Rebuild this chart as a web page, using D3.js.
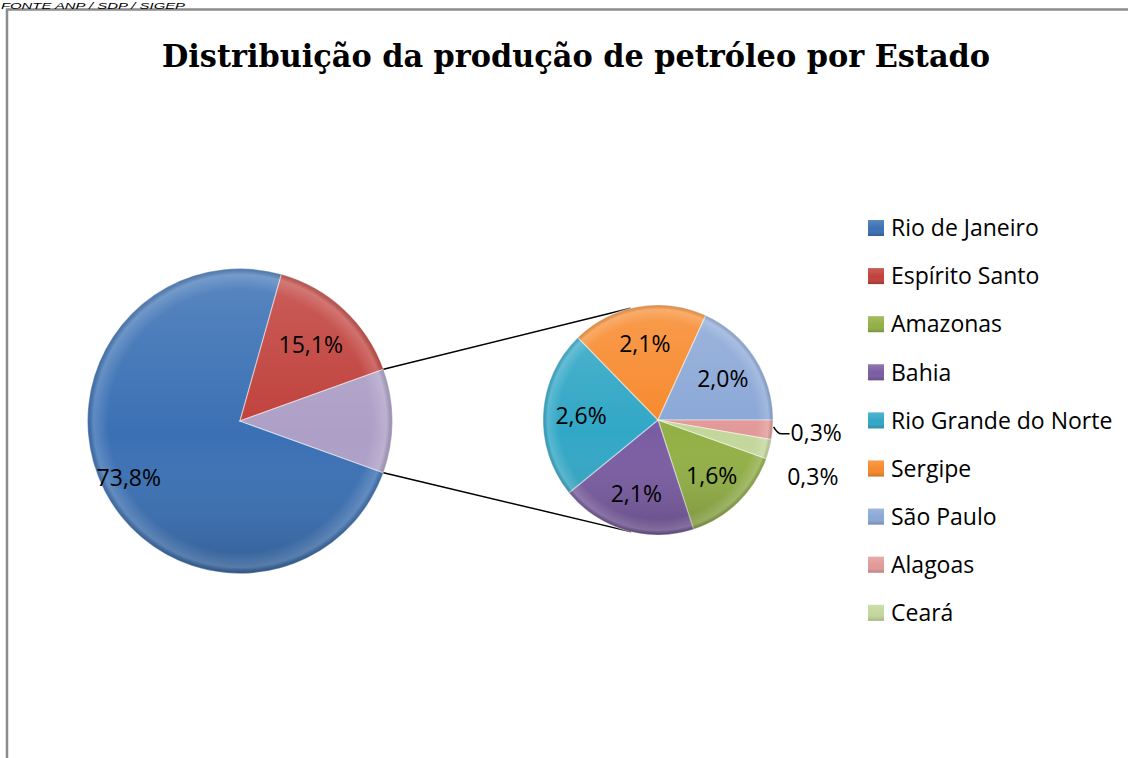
<!DOCTYPE html>
<html>
<head>
<meta charset="utf-8">
<script src="https://cdn.jsdelivr.net/npm/d3@7"></script>
<style>
  body { margin: 0; background: #fff; }
  svg { display: block; }
</style>
</head>
<body>
<svg width="1128" height="758"></svg>
<script>
// main pie: the two big states, the rest goes to the secondary pie
const mainStates = ["Rio de Janeiro", "Espírito Santo"];
const mainValues = [73.8, 15.1];
const subStates = ["Amazonas", "Bahia", "Rio Grande do Norte", "Sergipe", "São Paulo", "Alagoas", "Ceará"];
const subValues = [1.6, 2.1, 2.6, 2.1, 2.0, 0.3, 0.3];
const stateColors = ["#3a70b4", "#c0403b", "#92b045", "#7a5ca2", "#31a7c6", "#f7892c", "#8aa7d6", "#e29a99", "#c3d79b"];
const otherColor = "#ad9fc6";

const title = "Distribuição da produção de petróleo por Estado";
const source = "FONTE ANP / SDP / SIGEP";

var svg = d3.select("svg"),
  width = +svg.attr("width"),
  height = +svg.attr("height");

var allStates = mainStates.concat(subStates);
var color = d3.scaleOrdinal().domain(allStates).range(stateColors);
var fmt = function (v) {
  return d3.format(".1f")(v).replace(".", ",") + "%";
};

var otherTotal = d3.sum(subValues);
var mainTotal = d3.sum(mainValues) + otherTotal;

// gradients for the excel-ish shading
var defs = svg.append("defs");
var shade = defs.append("linearGradient").attr("id", "shade").attr("x1", 0).attr("y1", 0).attr("x2", 0).attr("y2", 1);
shade.append("stop").attr("offset", "0%").attr("stop-color", "#fff").attr("stop-opacity", 0.16);
shade.append("stop").attr("offset", "55%").attr("stop-color", "#fff").attr("stop-opacity", 0);
shade.append("stop").attr("offset", "100%").attr("stop-color", "#000").attr("stop-opacity", 0.18);
var rim = defs.append("radialGradient").attr("id", "rim");
rim.append("stop").attr("offset", "86%").attr("stop-color", "#fff").attr("stop-opacity", 0);
rim.append("stop").attr("offset", "96%").attr("stop-color", "#fff").attr("stop-opacity", 0.18);
rim.append("stop").attr("offset", "100%").attr("stop-color", "#000").attr("stop-opacity", 0.12);

// frame + source note
svg.append("rect")
  .attr("x", 7).attr("y", 9.5)
  .attr("width", width + 10).attr("height", height + 10)
  .attr("fill", "none").attr("stroke", "#8c8c8c").attr("stroke-width", 2.5);

svg.append("text")
  .attr("x", 1).attr("y", 8.6)
  .attr("font-family", "Liberation Sans, Arial, sans-serif")
  .attr("font-style", "italic")
  .attr("font-size", "9.5px")
  .attr("textLength", 184)
  .attr("lengthAdjust", "spacingAndGlyphs")
  .attr("fill", "#000")
  .text(source);

svg.append("text")
  .attr("x", 576).attr("y", 67)
  .attr("text-anchor", "middle")
  .attr("font-family", "DejaVu Serif Condensed, DejaVu Serif, serif")
  .attr("font-stretch", "condensed")
  .attr("font-weight", "bold")
  .attr("font-size", "31px")
  .attr("textLength", 828)
  .attr("lengthAdjust", "spacingAndGlyphs")
  .text(title);

var labelFont = "Open Sans, Liberation Sans, sans-serif";

// ---- main pie ----
var c1 = { x: 240, y: 421 }, r1 = 152.5;
var mainData = mainStates.map(function (s, i) {
  return { state: s, value: mainValues[i] };
});
mainData.push({ state: "Outros", value: otherTotal });

// "other" slice centred on 3 o'clock
var mainStart = Math.PI / 2 + Math.PI * (otherTotal / mainTotal);
var pie1 = d3.pie().sort(null).value(function (d) { return d.value; })
  .startAngle(mainStart).endAngle(mainStart + 2 * Math.PI);
var arc1 = d3.arc().innerRadius(0).outerRadius(r1);
var arcs1 = pie1(mainData);

var g1 = svg.append("g").attr("transform", "translate(" + c1.x + "," + c1.y + ")");

// ---- secondary pie ----
var c2 = { x: 658, y: 420 }, r2 = 115;
var subData = subStates.map(function (s, i) {
  return { state: s, value: subValues[i] };
});
// rotate so the São Paulo / Alagoas boundary sits at 3 o'clock
var tail = subValues[5] + subValues[6];
var subStart = Math.PI / 2 + 2 * Math.PI * (tail / otherTotal);
var pie2 = d3.pie().sort(null).value(function (d) { return d.value; })
  .startAngle(subStart).endAngle(subStart + 2 * Math.PI);
var arc2 = d3.arc().innerRadius(0).outerRadius(r2);
var arcs2 = pie2(subData);

// connector lines (tangent from the "other" slice edge to the small pie)
var other = arcs1[2];
function edgePoint(a, r, c) {
  return { x: c.x + r * Math.sin(a), y: c.y - r * Math.cos(a) };
}
function tangent(p, c, r, sign) {
  var dx = p.x - c.x, dy = p.y - c.y;
  var d = Math.sqrt(dx * dx + dy * dy);
  var base = Math.atan2(dy, dx);
  var off = Math.acos(r / d) * sign;
  return { x: c.x + r * Math.cos(base + off), y: c.y + r * Math.sin(base + off) };
}
var pTop = edgePoint(other.startAngle, r1, c1),
  pBot = edgePoint(other.endAngle, r1, c1);
var tTop = tangent(pTop, c2, r2, 1),
  tBot = tangent(pBot, c2, r2, -1);

svg.append("g")
  .selectAll("line")
  .data([[pTop, tTop], [pBot, tBot]])
  .enter()
  .append("line")
  .attr("x1", function (d) { return d[0].x; })
  .attr("y1", function (d) { return d[0].y; })
  .attr("x2", function (d) { return d[1].x; })
  .attr("y2", function (d) { return d[1].y; })
  .attr("stroke", "#000")
  .attr("stroke-width", 1.5);

g1.selectAll("path.slice")
  .data(arcs1)
  .enter()
  .append("path")
  .attr("class", "slice")
  .attr("d", arc1)
  .attr("fill", function (d) {
    return d.data.state === "Outros" ? otherColor : color(d.data.state);
  })
  .attr("stroke", "rgba(255,255,255,0.45)")
  .attr("stroke-width", 1.2);

g1.append("circle").attr("r", r1).attr("fill", "url(#shade)");
g1.append("circle").attr("r", r1).attr("fill", "url(#rim)");

g1.selectAll("text")
  .data(arcs1.filter(function (d) { return d.data.state !== "Outros"; }))
  .enter()
  .append("text")
  .attr("transform", function (d) {
    var big = d.endAngle - d.startAngle > Math.PI;
    var lr = r1 * (big ? 0.82 : 0.68);
    var a = (d.startAngle + d.endAngle) / 2;
    return "translate(" + lr * Math.sin(a) + "," + -lr * Math.cos(a) + ")";
  })
  .attr("text-anchor", "middle")
  .attr("dy", "0.36em")
  .attr("font-family", labelFont)
  .attr("font-size", "23px")
  .text(function (d) { return fmt(d.data.value); });

var g2 = svg.append("g").attr("transform", "translate(" + c2.x + "," + c2.y + ")");

g2.selectAll("path.slice")
  .data(arcs2)
  .enter()
  .append("path")
  .attr("class", "slice")
  .attr("d", arc2)
  .attr("fill", function (d) { return color(d.data.state); })
  .attr("stroke", "rgba(255,255,255,0.45)")
  .attr("stroke-width", 1.2);

g2.append("circle").attr("r", r2).attr("fill", "url(#shade)");
g2.append("circle").attr("r", r2).attr("fill", "url(#rim)");

// inside labels for the bigger slices
var smallCut = 1.0;
g2.selectAll("text.in")
  .data(arcs2.filter(function (d) { return d.data.value > smallCut; }))
  .enter()
  .append("text")
  .attr("class", "in")
  .attr("transform", function (d) {
    var a = (d.startAngle + d.endAngle) / 2, lr = r2 * 0.67;
    return "translate(" + lr * Math.sin(a) + "," + -lr * Math.cos(a) + ")";
  })
  .attr("text-anchor", "middle")
  .attr("dy", "0.36em")
  .attr("font-family", labelFont)
  .attr("font-size", "23px")
  .text(function (d) { return fmt(d.data.value); });

// outside labels for the thin ones, pushed down when they collide
var outside = arcs2.filter(function (d) { return d.data.value <= smallCut; })
  .map(function (d) {
    var a = (d.startAngle + d.endAngle) / 2;
    var ex = r2 * Math.sin(a), ey = -r2 * Math.cos(a);
    return { d: d, ex: ex, ey: ey, x: ex + 18, y: ey + 3, pushed: false };
  });
outside.sort(function (a, b) { return a.y - b.y; });
for (var i = 1; i < outside.length; i++) {
  if (outside[i].y - outside[i - 1].y < 44) {
    outside[i].y = outside[i - 1].y + 44;
    outside[i].pushed = true;
  }
}

g2.selectAll("path.leader")
  .data(outside.filter(function (o) { return !o.pushed; }))
  .enter()
  .append("path")
  .attr("class", "leader")
  .attr("d", function (o) {
    return "M" + (o.ex + 1) + "," + (o.ey - 3) +
      "Q" + (o.ex + 5) + "," + (o.y + 1) + " " + (o.ex + 9) + "," + (o.y + 1) +
      "L" + (o.x - 1) + "," + (o.y + 1);
  })
  .attr("fill", "none")
  .attr("stroke", "#000")
  .attr("stroke-width", 1.5);

g2.selectAll("text.out")
  .data(outside)
  .enter()
  .append("text")
  .attr("class", "out")
  .attr("x", function (o) { return o.x; })
  .attr("y", function (o) { return o.y; })
  .attr("dy", "0.36em")
  .attr("font-family", labelFont)
  .attr("font-size", "23px")
  .text(function (o) { return fmt(o.d.data.value); });

// ---- legend ----
var legend = svg.append("g")
  .selectAll("g")
  .data(allStates)
  .enter()
  .append("g")
  .attr("transform", function (d, i) {
    return "translate(868," + (228 + i * 48.1) + ")";
  });

legend.append("rect")
  .attr("x", 0).attr("y", -8)
  .attr("width", 16).attr("height", 16)
  .attr("fill", color);
legend.append("rect")
  .attr("x", 0).attr("y", -8)
  .attr("width", 16).attr("height", 16)
  .attr("fill", "url(#shade)");

legend.append("text")
  .attr("x", 23)
  .attr("y", 0)
  .attr("dy", "0.36em")
  .attr("font-family", labelFont)
  .attr("font-size", "23px")
  .text(function (d) { return d; });
</script>
</body>
</html>
